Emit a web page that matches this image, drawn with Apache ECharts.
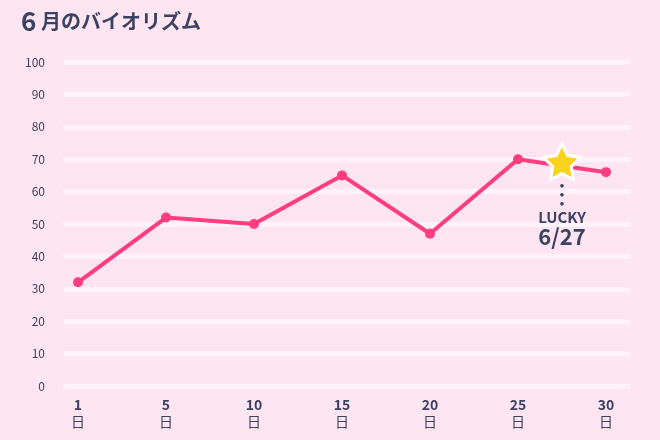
<!DOCTYPE html>
<html>
<head>
<meta charset="utf-8">
<script src="https://cdn.jsdelivr.net/npm/echarts@6/dist/echarts.min.js"></script>
<style>
html,body{margin:0;padding:0;background:#ffe5f1;}
#c{width:660px;height:440px;}
</style>
</head>
<body>
<div id="c"></div>
<script>
var days = ['1', '5', '10', '15', '20', '25', '30'];
var dayUnit = '日';
var values = [32, 52, 50, 65, 47, 70, 66];
var yTicks = [0, 10, 20, 30, 40, 50, 60, 70, 80, 90, 100];
var luckyPos = [5.5, 68];
var luckyWord = 'LUCKY';
var luckyDate = '6/27';
var titleNum = '6';
var titleRest = '月のバイオリズム';

var dark = '#3a4363';
var font = '"Noto Sans CJK JP", "Noto Sans", sans-serif';
var starPath = 'path://M50 0 L64.69 29.77 L97.55 34.55 L73.78 57.73 L79.39 90.45 L50 75 L20.61 90.45 L26.22 57.73 L2.45 34.55 L35.31 29.77 Z';

var chart = echarts.init(document.getElementById('c'));
chart.setOption({
  backgroundColor: '#ffe5f1',
  textStyle: { fontFamily: font },
  graphic: [
    { type: 'text', left: 21, top: 8, style: { text: titleNum, fontSize: 26, fontWeight: 'bold', fill: dark, fontFamily: font } },
    { type: 'text', left: 41, top: 11, style: { text: titleRest, fontSize: 20, fontWeight: 'bold', fill: dark, fontFamily: font } }
  ],
  grid: [
    { left: 65, right: 32, top: 62, bottom: 54 },
    { left: 78, right: 54, top: 62, bottom: 54 }
  ],
  xAxis: [
    { gridIndex: 0, type: 'category', data: days, show: false },
    {
      gridIndex: 1, type: 'category', data: days, boundaryGap: false,
      axisLine: { show: false }, axisTick: { show: false }, splitLine: { show: false },
      axisLabel: {
        margin: 10, interval: 0,
        formatter: function (v) { return '{n|' + v + '}\n{d|' + dayUnit + '}'; },
        rich: {
          n: { fontSize: 14, fontWeight: 'bold', color: dark, lineHeight: 17, fontFamily: font },
          d: { fontSize: 14, color: dark, lineHeight: 17, fontFamily: font }
        }
      }
    },
    { gridIndex: 1, type: 'value', min: 0, max: days.length - 1, show: false }
  ],
  yAxis: [
    {
      gridIndex: 0, type: 'value', min: yTicks[0], max: yTicks[yTicks.length - 1], interval: yTicks[1] - yTicks[0],
      axisLine: { show: false }, axisTick: { show: false },
      axisLabel: { color: dark, fontSize: 12, margin: 20, fontFamily: font },
      splitLine: { lineStyle: { color: '#fff3f9', width: 5, cap: 'round' } }
    },
    { gridIndex: 1, type: 'value', min: yTicks[0], max: yTicks[yTicks.length - 1], show: false }
  ],
  series: [
    {
      type: 'line', xAxisIndex: 1, yAxisIndex: 1, data: values,
      symbol: 'circle', symbolSize: 10, z: 3,
      lineStyle: { color: '#ff3d7f', width: 4 },
      itemStyle: { color: '#ff3d7f' },
      animation: false
    },
    {
      type: 'scatter', xAxisIndex: 2, yAxisIndex: 1, data: [luckyPos],
      symbol: starPath, symbolSize: [37, 36], symbolOffset: [0, -4], z: 5,
      itemStyle: { color: '#fcd31c', opacity: 1, borderColor: '#ffffff', borderWidth: 3, borderJoin: 'round' },
      emphasis: { disabled: true },
      label: {
        show: true, position: 'bottom', distance: 1,
        formatter: function () { return '{dot|●}\n{dot|●}\n{dot|●}\n{l|' + luckyWord + '}\n{dt|' + luckyDate + '}'; },
        rich: {
          dot: { fontSize: 4, lineHeight: 9, color: dark, align: 'center' },
          l: { fontSize: 15, fontWeight: 'bold', color: dark, lineHeight: 17, align: 'center', fontFamily: font },
          dt: { fontSize: 22, fontWeight: 'bold', color: dark, lineHeight: 20, align: 'center', fontFamily: font }
        }
      },
      animation: false
    }
  ]
});
</script>
</body>
</html>
